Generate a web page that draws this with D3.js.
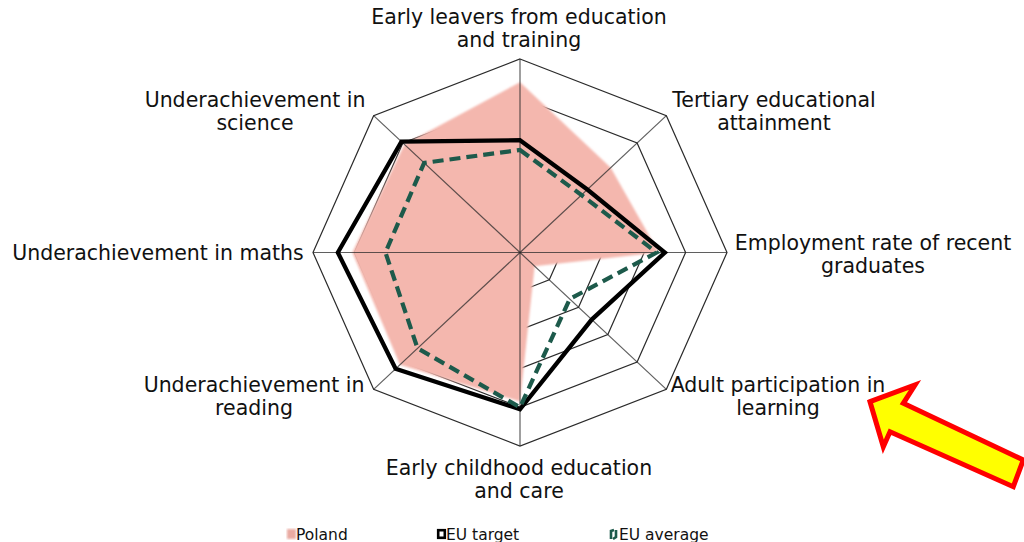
<!DOCTYPE html>
<html><head><meta charset="utf-8">
<script src="https://cdn.jsdelivr.net/npm/d3@7"></script>
<style>
html,body{margin:0;padding:0;background:#fff;}
svg{display:block;font-family:"DejaVu Sans",Verdana,sans-serif;}
</style></head>
<body>
<svg id="chart" width="1024" height="542"></svg>
<script>
// ---- data ----
const categories = [
  ["Early leavers from education","and training"],
  ["Tertiary educational","attainment"],
  ["Employment rate of recent","graduates"],
  ["Adult participation in","learning"],
  ["Early childhood education","and care"],
  ["Underachievement in","reading"],
  ["Underachievement in maths"],
  ["Underachievement in","science"]
];
const poland    = [0.88, 0.62, 0.67, 0.10, 0.77, 0.82, 0.81, 0.79];
const euTarget  = [0.58, 0.46, 0.70, 0.49, 0.81, 0.85, 0.88, 0.81];
const euAverage = [0.53, 0.42, 0.66, 0.34, 0.80, 0.70, 0.65, 0.655];
const ringLevels = [0.2, 0.4, 0.6, 0.8, 1.0];
const legendLabels = ["Poland", "EU target", "EU average"];

// ---- layout ----
const svg = d3.select("#chart");
const cx = 520, cy = 252.5, rx = 207, ry = 193.5;
const sx = d3.scaleLinear().domain([0,1]).range([0, rx]);
const sy = d3.scaleLinear().domain([0,1]).range([0, ry]);
const n = categories.length;
const ang = i => i * 2 * Math.PI / n;
const pt = (v, i) => [cx + sx(v) * Math.sin(ang(i)), cy - sy(v) * Math.cos(ang(i))];
const line = d3.line().curve(d3.curveLinearClosed);

const defs = svg.append("defs");
defs.append("filter").attr("id","soft").attr("x","-5%").attr("y","-5%").attr("width","110%").attr("height","110%")
  .append("feGaussianBlur").attr("stdDeviation", 1.2);

// rings
svg.append("g").selectAll("path").data(ringLevels).join("path")
  .attr("d", lv => line(d3.range(n).map(i => pt(lv, i))))
  .attr("fill","none").attr("stroke","#2a2a2a").attr("stroke-width",1.2);

// Poland fill
svg.append("path")
  .attr("d", line(poland.map((v,i) => pt(v,i))))
  .attr("fill","#f4b7ae").attr("filter","url(#soft)");

// spokes
svg.append("g").selectAll("line").data(d3.range(n)).join("line")
  .attr("x1",cx).attr("y1",cy)
  .attr("x2", i => pt(1,i)[0]).attr("y2", i => pt(1,i)[1])
  .attr("stroke","#2a2a2a").attr("stroke-opacity",0.75).attr("stroke-width",1.2);

// EU target
svg.append("path")
  .attr("d", line(euTarget.map((v,i) => pt(v,i))))
  .attr("fill","none").attr("stroke","#000").attr("stroke-width",4.3)
  .attr("stroke-linejoin","miter");

// EU average
svg.append("path")
  .attr("d", line(euAverage.map((v,i) => pt(v,i))))
  .attr("fill","none").attr("stroke","#1d5a4b").attr("stroke-width",4.2)
  .attr("stroke-dasharray","11,6");

// category labels
const labelPos = [
  [519, 17], [774, 100], [873, 243], [778, 385],
  [519, 468], [254, 385], [158, 253], [255, 100]
];
const lab = svg.append("g").attr("font-size", 20.5).attr("fill","#111").attr("text-anchor","middle");
categories.forEach((lines, i) => {
  lines.forEach((t, k) => {
    lab.append("text")
      .attr("x", labelPos[i][0]).attr("y", labelPos[i][1] + 7 + k * 23.3)
      .text(t);
  });
});

// legend
const lg = svg.append("g").attr("font-size", 15.5).attr("fill","#111");
const legX = [287, 437, 610];
lg.append("rect").attr("x", legX[0]).attr("y", 529).attr("width", 9).attr("height", 10)
  .attr("fill","#e9aaa2").attr("filter","url(#soft)");
lg.append("rect").attr("x", legX[1]+1.2).attr("y", 530.2).attr("width", 6.6).attr("height", 7.6)
  .attr("fill","#fff").attr("stroke","#000").attr("stroke-width",2.6);
lg.append("path").attr("d", `M${legX[2]+1},${539} L${legX[2]+1},${531} L${legX[2]+4},${530}`)
  .attr("fill","none").attr("stroke","#1d5a4b").attr("stroke-width",2.6);
lg.append("path").attr("d", `M${legX[2]+6},${530} L${legX[2]+6},${537} L${legX[2]+3},${539}`)
  .attr("fill","none").attr("stroke","#1d5a4b").attr("stroke-width",2.6);
legendLabels.forEach((t,i) => {
  lg.append("text").attr("x", legX[i] + 9).attr("y", 539.5).text(t);
});

// annotation arrow
const arrowPts = [[870,401.7],[915,385],[903.3,403.3],[1023.3,460],[1013.3,486.7],[890,431.7],[883.3,446.7]];
svg.append("path")
  .attr("d", line(arrowPts))
  .attr("fill","#ffff00").attr("stroke","#ff0000").attr("stroke-width",5).attr("stroke-linejoin","miter");
</script>
</body></html>
